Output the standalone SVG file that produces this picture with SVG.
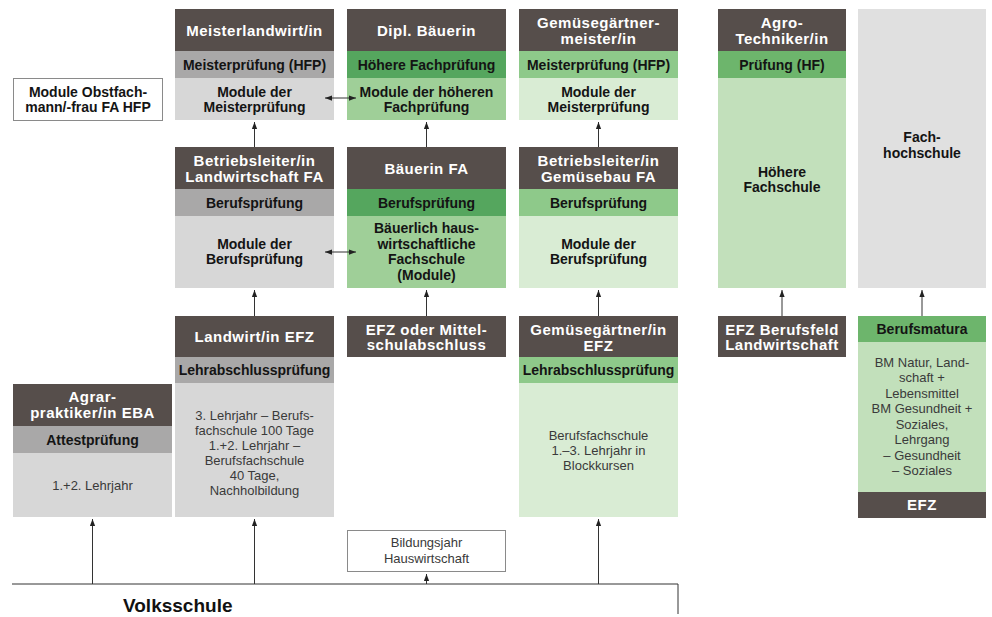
<svg xmlns="http://www.w3.org/2000/svg" width="992" height="617" viewBox="0 0 992 617">
<defs>
<style>
text{font-family:"Liberation Sans",Arial,sans-serif;text-anchor:middle}
.t{fill:#ffffff;font-weight:bold;font-size:15px;letter-spacing:0.5px}
.b{fill:#141414;font-weight:bold;font-size:14px}
.m{fill:#141414;font-weight:bold;font-size:14px}
.r{fill:#3a3a3a;font-size:13px}
.dark{fill:#564e4b}
.gband{fill:#a9a8a8}
.glight{fill:#d7d7d7}
.fh{fill:#e0e0e0}
.g2band{fill:#55a65e}
.g2body{fill:#9fcf98}
.g3band{fill:#8ec98a}
.g3body{fill:#d9ecd4}
.g4band{fill:#6db56c}
.g4body{fill:#c2e0bb}
.frame{fill:#ffffff;stroke:#8a8a8a;stroke-width:1}
.c{stroke:#333333;stroke-width:1;fill:none}
</style>
<marker id="ah" viewBox="0 0 8 6" refX="8" refY="3" markerWidth="7" markerHeight="6" markerUnits="userSpaceOnUse" orient="auto-start-reverse">
<path d="M0,0 L8,3 L0,6 z" fill="#222222"/>
</marker>
</defs>

<g id="obstfach">
<rect class="frame" x="13.5" y="78.5" width="149" height="42"/>
<text class="m" x="88" y="97">Module Obstfach-</text>
<text class="m" x="88" y="112">mann/-frau FA HFP</text>
</g>

<g id="meisterlandwirt">
<rect class="dark" x="175" y="9" width="159" height="42"/>
<rect class="gband" x="175" y="51" width="159" height="27"/>
<rect class="glight" x="175" y="78" width="159" height="42"/>
<text class="t" x="254.5" y="36">Meisterlandwirt/in</text>
<text class="b" x="254.5" y="69.5">Meisterprüfung (HFP)</text>
<text class="m" x="254.5" y="97">Module der</text>
<text class="m" x="254.5" y="112">Meisterprüfung</text>
</g>

<g id="dipl-baeuerin">
<rect class="dark" x="347" y="9" width="159" height="42"/>
<rect class="g2band" x="347" y="51" width="159" height="27"/>
<rect class="g2body" x="347" y="78" width="159" height="42"/>
<text class="t" x="426.5" y="36">Dipl. Bäuerin</text>
<text class="b" x="426.5" y="69.5">Höhere Fachprüfung</text>
<text class="m" x="426.5" y="97">Module der höheren</text>
<text class="m" x="426.5" y="112">Fachprüfung</text>
</g>

<g id="gemuesegaertnermeister">
<rect class="dark" x="519" y="9" width="159" height="42"/>
<rect class="g3band" x="519" y="51" width="159" height="27"/>
<rect class="g3body" x="519" y="78" width="159" height="42"/>
<text class="t" x="598.5" y="28">Gemüsegärtner-</text>
<text class="t" x="598.5" y="44">meister/in</text>
<text class="b" x="598.5" y="69.5">Meisterprüfung (HFP)</text>
<text class="m" x="598.5" y="97">Module der</text>
<text class="m" x="598.5" y="112">Meisterprüfung</text>
</g>

<g id="agrotechniker">
<rect class="dark" x="718" y="9" width="128" height="42"/>
<rect class="g4band" x="718" y="51" width="128" height="27"/>
<rect class="g4body" x="718" y="78" width="128" height="210"/>
<text class="t" x="782" y="28">Agro-</text>
<text class="t" x="782" y="43.5">Techniker/in</text>
<text class="b" x="782" y="69.5">Prüfung (HF)</text>
<text class="m" x="782" y="177">Höhere</text>
<text class="m" x="782" y="192">Fachschule</text>
</g>

<g id="fachhochschule">
<rect class="fh" x="858" y="9" width="128" height="279"/>
<text class="m" x="922" y="142">Fach-</text>
<text class="m" x="922" y="158">hochschule</text>
</g>

<g id="betriebsleiter-landwirtschaft">
<rect class="dark" x="175" y="147" width="159" height="42"/>
<rect class="gband" x="175" y="189" width="159" height="27"/>
<rect class="glight" x="175" y="216" width="159" height="72"/>
<text class="t" x="254.5" y="166">Betriebsleiter/in</text>
<text class="t" x="254.5" y="182">Landwirtschaft FA</text>
<text class="b" x="254.5" y="207.5">Berufsprüfung</text>
<text class="m" x="254.5" y="249">Module der</text>
<text class="m" x="254.5" y="264">Berufsprüfung</text>
</g>

<g id="baeuerin-fa">
<rect class="dark" x="347" y="147" width="159" height="42"/>
<rect class="g2band" x="347" y="189" width="159" height="27"/>
<rect class="g2body" x="347" y="216" width="159" height="72"/>
<text class="t" x="426.5" y="173.5">Bäuerin FA</text>
<text class="b" x="426.5" y="207.5">Berufsprüfung</text>
<text class="m" x="426.5" y="233">Bäuerlich haus-</text>
<text class="m" x="426.5" y="248.5">wirtschaftliche</text>
<text class="m" x="426.5" y="264">Fachschule</text>
<text class="m" x="426.5" y="279.5">(Module)</text>
</g>

<g id="betriebsleiter-gemuesebau">
<rect class="dark" x="519" y="147" width="159" height="42"/>
<rect class="g3band" x="519" y="189" width="159" height="27"/>
<rect class="g3body" x="519" y="216" width="159" height="72"/>
<text class="t" x="598.5" y="166">Betriebsleiter/in</text>
<text class="t" x="598.5" y="182">Gemüsebau FA</text>
<text class="b" x="598.5" y="207.5">Berufsprüfung</text>
<text class="m" x="598.5" y="249">Module der</text>
<text class="m" x="598.5" y="264">Berufsprüfung</text>
</g>

<g id="agrarpraktiker">
<rect class="dark" x="13" y="384" width="159" height="42"/>
<rect class="gband" x="13" y="426" width="159" height="27"/>
<rect class="glight" x="13" y="453" width="159" height="64"/>
<text class="t" x="92.5" y="402">Agrar-</text>
<text class="t" x="92.5" y="418">praktiker/in EBA</text>
<text class="b" x="92.5" y="444.5">Attestprüfung</text>
<text class="r" x="92.5" y="489.5">1.+2. Lehrjahr</text>
</g>

<g id="landwirt-efz">
<rect class="dark" x="175" y="316" width="159" height="41"/>
<rect class="gband" x="175" y="357" width="159" height="26"/>
<rect class="glight" x="175" y="383" width="159" height="134"/>
<text class="t" x="254.5" y="342">Landwirt/in EFZ</text>
<text class="b" x="254.5" y="375">Lehrabschlussprüfung</text>
<text class="r" x="254.5" y="419.5">3. Lehrjahr – Berufs-</text>
<text class="r" x="254.5" y="434.5">fachschule 100 Tage</text>
<text class="r" x="254.5" y="449.5">1.+2. Lehrjahr –</text>
<text class="r" x="254.5" y="464.5">Berufsfachschule</text>
<text class="r" x="254.5" y="479.5">40 Tage,</text>
<text class="r" x="254.5" y="494.5">Nachholbildung</text>
</g>

<g id="efz-mittelschule">
<rect class="dark" x="347" y="316" width="159" height="41"/>
<text class="t" x="426.5" y="334.5">EFZ oder Mittel-</text>
<text class="t" x="426.5" y="350">schulabschluss</text>
</g>

<g id="gemuesegaertner-efz">
<rect class="dark" x="519" y="316" width="159" height="41"/>
<rect class="g3band" x="519" y="357" width="159" height="26"/>
<rect class="g3body" x="519" y="383" width="159" height="134"/>
<text class="t" x="598.5" y="334.5">Gemüsegärtner/in</text>
<text class="t" x="598.5" y="350.5">EFZ</text>
<text class="b" x="598.5" y="375">Lehrabschlussprüfung</text>
<text class="r" x="598.5" y="439.5">Berufsfachschule</text>
<text class="r" x="598.5" y="454.5">1.–3. Lehrjahr in</text>
<text class="r" x="598.5" y="469.5">Blockkursen</text>
</g>

<g id="efz-berufsfeld">
<rect class="dark" x="718" y="316" width="128" height="41"/>
<text class="t" x="782" y="334.5">EFZ Berufsfeld</text>
<text class="t" x="782" y="350">Landwirtschaft</text>
</g>

<g id="berufsmatura">
<rect class="g4band" x="858" y="316" width="128" height="26"/>
<rect class="g4body" x="858" y="342" width="128" height="150"/>
<rect class="dark" x="858" y="492" width="128" height="26"/>
<text class="b" x="922" y="333.5">Berufsmatura</text>
<text class="r" x="922" y="366.5">BM Natur, Land-</text>
<text class="r" x="922" y="382">schaft +</text>
<text class="r" x="922" y="397.5">Lebensmittel</text>
<text class="r" x="922" y="413">BM Gesundheit +</text>
<text class="r" x="922" y="428.5">Soziales,</text>
<text class="r" x="922" y="444">Lehrgang</text>
<text class="r" x="922" y="459.5">– Gesundheit</text>
<text class="r" x="922" y="475">– Soziales</text>
<text class="t" x="922" y="510">EFZ</text>
</g>

<g id="bildungsjahr">
<rect class="frame" x="347.5" y="530.5" width="158" height="41"/>
<text class="r" x="426.5" y="547">Bildungsjahr</text>
<text class="r" x="426.5" y="562.5">Hauswirtschaft</text>
</g>

<g id="volksschule">
<text x="123" y="612" style="text-anchor:start;font-weight:bold;font-size:19px;fill:#111111">Volksschule</text>
</g>

<g id="connectors">
<path class="c" d="M12,584 H678 V614"/>
<line class="c" x1="92.5" y1="584" x2="92.5" y2="519" marker-end="url(#ah)"/>
<line class="c" x1="254.5" y1="584" x2="254.5" y2="519" marker-end="url(#ah)"/>
<line class="c" x1="426.5" y1="584" x2="426.5" y2="574" marker-end="url(#ah)"/>
<line class="c" x1="598.5" y1="584" x2="598.5" y2="519" marker-end="url(#ah)"/>
<line class="c" x1="254.5" y1="316" x2="254.5" y2="290" marker-end="url(#ah)"/>
<line class="c" x1="426.5" y1="316" x2="426.5" y2="290" marker-end="url(#ah)"/>
<line class="c" x1="598.5" y1="316" x2="598.5" y2="290" marker-end="url(#ah)"/>
<line class="c" x1="782" y1="316" x2="782" y2="290" marker-end="url(#ah)"/>
<line class="c" x1="922" y1="316" x2="922" y2="290" marker-end="url(#ah)"/>
<line class="c" x1="254.5" y1="147" x2="254.5" y2="122" marker-end="url(#ah)"/>
<line class="c" x1="426.5" y1="147" x2="426.5" y2="122" marker-end="url(#ah)"/>
<line class="c" x1="598.5" y1="147" x2="598.5" y2="122" marker-end="url(#ah)"/>
<line class="c" x1="325" y1="98" x2="356" y2="98" marker-start="url(#ah)" marker-end="url(#ah)"/>
<line class="c" x1="325" y1="252" x2="356" y2="252" marker-start="url(#ah)" marker-end="url(#ah)"/>
</g>
</svg>
